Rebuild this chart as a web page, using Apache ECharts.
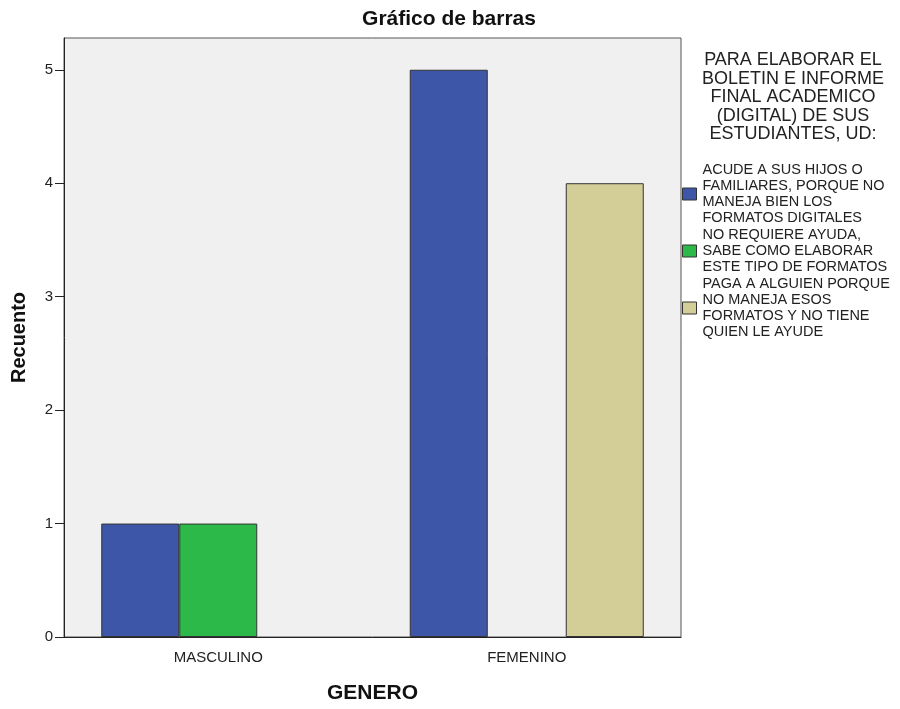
<!DOCTYPE html>
<html>
<head>
<meta charset="utf-8">
<title>Gráfico de barras</title>
<script src="https://cdn.jsdelivr.net/npm/echarts@6/dist/echarts.min.js"></script>
<style>
html, body { margin: 0; padding: 0; background: #fff; }
#chart { width: 900px; height: 709px; }
</style>
</head>
<body>
<div id="chart"></div>
<script>
// datos del gráfico
var categorias = ['MASCULINO', 'FEMENINO'];
var acude = [1, 5];
var noRequiere = [1, null];
var paga = [null, 4];
var yTicks = [0, 1, 2, 3, 4, 5];

var nombres = [
    'ACUDE A SUS HIJOS O\nFAMILIARES, PORQUE NO\nMANEJA BIEN LOS\nFORMATOS DIGITALES',
    'NO REQUIERE AYUDA,\nSABE COMO ELABORAR\nESTE TIPO DE FORMATOS',
    'PAGA A ALGUIEN PORQUE\nNO MANEJA ESOS\nFORMATOS Y NO TIENE\nQUIEN LE AYUDE'
];
var colores = ['#3d56a8', '#2db84a', '#d3ce97'];

var chart = echarts.init(document.getElementById('chart'));

function serie(i, datos) {
    return {
        name: nombres[i],
        type: 'bar',
        data: datos,
        barWidth: 78,
        barGap: '0%',
        itemStyle: { color: colores[i], borderColor: '#333', borderWidth: 1 }
    };
}

var option = {
    animation: false,
    textStyle: { fontFamily: 'Liberation Sans, Arial, sans-serif' },
    title: [
        {
            text: 'Gráfico de barras',
            left: 449, top: 9, textAlign: 'center', padding: 0,
            textStyle: { fontSize: 21, fontWeight: 'bold', color: '#111' }
        },
        {
            // título de la leyenda
            text: 'PARA ELABORAR EL\nBOLETIN E INFORME\nFINAL ACADEMICO\n(DIGITAL) DE SUS\nESTUDIANTES, UD:',
            left: 793, top: 51, textAlign: 'center', padding: 0,
            textStyle: { fontSize: 18, fontWeight: 'normal', color: '#222', lineHeight: 18.5 }
        }
    ],
    legend: {
        orient: 'vertical',
        left: 682, top: 162,
        padding: 0,
        itemWidth: 14, itemHeight: 12,
        itemGap: 1,
        icon: 'rect',
        itemStyle: { borderColor: '#333', borderWidth: 1 },
        textStyle: { fontSize: 14.5, color: '#222', lineHeight: 16, padding: [0, 0, 0, 1] },
        data: nombres
    },
    grid: {
        left: 64, right: 219, top: 38, bottom: 67,
        show: true,
        backgroundColor: '#f0f0f0',
        borderColor: '#555',
        borderWidth: 1
    },
    xAxis: {
        type: 'category',
        data: categorias,
        name: 'GENERO',
        nameLocation: 'middle',
        nameGap: 46,
        nameTextStyle: { fontSize: 21, fontWeight: 'bold', color: '#111' },
        axisLine: { lineStyle: { color: '#222' } },
        axisTick: { alignWithLabel: true, length: 10, lineStyle: { color: '#222' } },
        axisLabel: { fontSize: 15, color: '#222', margin: 13 },
        splitLine: { show: false }
    },
    yAxis: {
        type: 'value',
        min: yTicks[0],
        max: 5.28,
        interval: 1,
        name: 'Recuento',
        nameLocation: 'middle',
        nameGap: 35,
        nameTextStyle: { fontSize: 20, fontWeight: 'bold', color: '#111' },
        axisLine: { show: true, lineStyle: { color: '#222' } },
        axisTick: { show: true, length: 9, customValues: yTicks, lineStyle: { color: '#222' } },
        axisLabel: { fontSize: 15, color: '#222', margin: 11, customValues: yTicks },
        splitLine: { show: false }
    },
    series: [
        serie(0, acude),
        serie(1, noRequiere),
        serie(2, paga)
    ]
};

chart.setOption(option);
</script>
</body>
</html>
